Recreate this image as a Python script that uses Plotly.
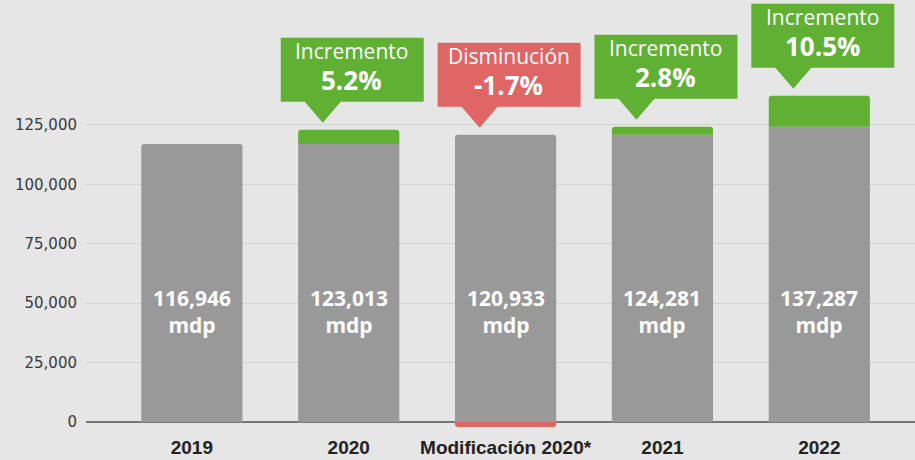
import plotly.graph_objects as go

categories = ["2019", "2020", "Modificación 2020*", "2021", "2022"]
base_values = [116946, 116946, 120933, 120933, 124281]
totals = [116946, 123013, 120933, 124281, 137287]
decreases = [0, 0, -2080, 0, 0]
bar_labels = ["116,946", "123,013", "120,933", "124,281", "137,287"]
callout_titles = ["", "Incremento", "Disminución", "Incremento", "Incremento"]
callout_pcts = ["", "5.2%", "-1.7%", "2.8%", "10.5%"]
callout_kinds = ["", "up", "down", "up", "up"]
y_ticks = [0, 25000, 50000, 75000, 100000, 125000]

increases = [max(t - b, 0) for t, b in zip(totals, base_values)]

GRAY = "#999999"
GREEN = "#60b133"
RED = "#e06666"
BG = "#e6e6e6"

fig = go.Figure()
for vals, col in [(base_values, GRAY), (increases, GREEN), (decreases, RED)]:
    fig.add_bar(x=list(range(len(categories))), y=vals, marker_color=col, marker_line_width=0,
                width=0.645, showlegend=False)

LABEL_Y = 46700
for i, lab in enumerate(bar_labels):
    fig.add_annotation(x=i, y=LABEL_Y, text=f"<b>{lab}<br>mdp</b>", showarrow=False,
                       font=dict(family="Open Sans", size=21, color="white"), yanchor="middle")

for i, kind in enumerate(callout_kinds):
    if not kind:
        continue
    col = GREEN if kind == "up" else RED
    top = max(totals[i], base_values[i])
    path = "M -26 7 L -44 28 L -68 28 L -68 92 L 75 92 L 75 28 L -8 28 Z"
    fig.add_shape(type="path", xref="x", yref="y", xsizemode="pixel", ysizemode="pixel",
                  xanchor=i, yanchor=top, path=path, fillcolor=col, line_width=0,
                  layer="above")
    fig.add_annotation(x=i, y=top, xshift=3, yshift=79, text=callout_titles[i],
                       showarrow=False, font=dict(family="Open Sans", size=21, color="white"),
                       yanchor="middle")
    fig.add_annotation(x=i, y=top, xshift=3, yshift=50, text=f"<b>{callout_pcts[i]}</b>",
                       showarrow=False, font=dict(family="Open Sans", size=26, color="white"),
                       yanchor="middle")

fig.update_layout(
    barmode="relative",
    barcornerradius=3,
    width=915, height=460,
    margin=dict(l=86, r=0, t=0, b=26),
    paper_bgcolor=BG, plot_bgcolor=BG,
    xaxis=dict(range=[-0.675, 4.61], tickvals=list(range(len(categories))), ticktext=categories,
               showgrid=False, zeroline=False, ticks="",
               tickfont=dict(family="Liberation Sans", size=19, color="#222222", weight=700)),
    yaxis=dict(range=[-5050, 177600], tickvals=y_ticks, tickformat=",", showgrid=True,
               gridcolor="#d2d2d2", gridwidth=1, zeroline=True, zerolinecolor="#777777",
               zerolinewidth=2, ticks="", ticklabelstandoff=8,
               tickfont=dict(family="DejaVu Sans", size=15, color="#3a3a3a")),
)

fig.write_html("out.html", config={"displayModeBar": False},
               post_script="document.body.style.margin='0';")
